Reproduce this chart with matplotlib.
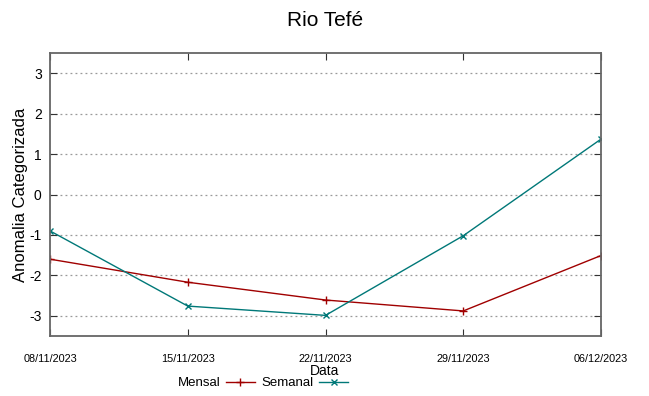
import matplotlib
matplotlib.use('Agg')
import matplotlib.pyplot as plt
from matplotlib import font_manager

dates = ['08/11/2023', '15/11/2023', '22/11/2023', '29/11/2023', '06/12/2023']
mensal = [-1.60, -2.17, -2.61, -2.88, -1.51]
semanal = [-0.90, -2.76, -2.99, -1.02, 1.37]
yticks = [-3, -2, -1, 0, 1, 2, 3]

plt.rcParams['font.family'] = ['Liberation Sans', 'DejaVu Sans']
names = {f.name for f in font_manager.fontManager.ttflist}
narrow = 'Liberation Sans Narrow' if 'Liberation Sans Narrow' in names else 'Liberation Sans'

fig = plt.figure(figsize=(6.49, 3.96), dpi=100)
ax = fig.add_axes([50 / 649, 1 - 336 / 396, 551 / 649, 283 / 396])

x = list(range(len(dates)))
ax.plot(x, mensal, color='#a00000', lw=1.0, marker='+', ms=6, mew=1.0, label='Mensal')
ax.plot(x, semanal, color='#007878', lw=1.0, marker='x', ms=5, mew=1.0, label='Semanal')

ax.set_xlim(0, len(dates) - 1)
ax.set_ylim(-3.5, 3.5)
ax.set_yticks(yticks)
ax.set_yticklabels([str(v) for v in yticks], fontsize=10)
ax.set_xticks(x)
ax.set_xticklabels(dates, fontsize=7.8, family=narrow)
ax.tick_params(axis='x', direction='in', length=5, pad=13, top=True, color='#333333')
ax.tick_params(axis='y', direction='in', length=5, pad=6, right=True, color='#333333')
ax.yaxis.grid(True, linestyle=(0, (1.5, 2.5)), color='#999999', lw=0.9)
for s in ax.spines.values():
    s.set_color('#666666')
    s.set_linewidth(1.3)

ax.set_ylabel('Anomalia Categorizada', fontsize=12, labelpad=1)
fig.text(325 / 649, 1 - 371 / 396, 'Data', ha='center', va='center', fontsize=10, family=narrow)
fig.text(325 / 649, 1 - 20 / 396, 'Rio Tefé', ha='center', va='center', fontsize=15)

fig.legend(loc='center', bbox_to_anchor=(263 / 649, 1 - 383 / 396), ncol=2, frameon=False,
           markerfirst=False, prop={'family': narrow, 'size': 9.5},
           handlelength=2.2, handletextpad=0.4, columnspacing=0.5, borderpad=0)

fig.savefig('out.png', dpi=100)
